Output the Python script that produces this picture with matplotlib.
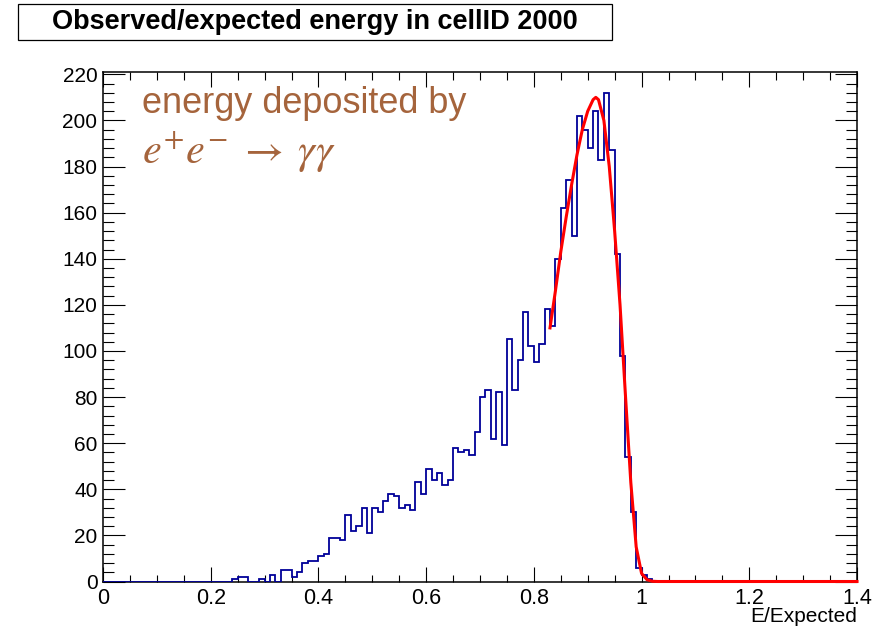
import numpy as np
import matplotlib
matplotlib.use('Agg')
import matplotlib.pyplot as plt
from matplotlib.patches import Rectangle
from matplotlib.ticker import MultipleLocator, FuncFormatter

plt.rcParams['font.family'] = ['Liberation Sans', 'DejaVu Sans']
plt.rcParams['mathtext.fontset'] = 'stix'

# ---------------- data ----------------
x_min, x_max, n_bins = 0.0, 1.4, 140

counts = [0] * 24 + [
    1, 2, 2, 0, 0, 1, 0, 3, 0, 5,          # 24-33
    5, 2, 4, 8, 9, 9, 11, 12, 19, 19,      # 34-43
    18, 29, 22, 24, 32, 21, 32, 30, 35, 38,  # 44-53
    37, 32, 33, 31, 43, 38, 49, 44, 47, 42,  # 54-63
    44, 58, 56, 57, 55, 65, 80, 83, 62, 82,  # 64-73
    59, 105, 83, 96, 117, 102, 95, 103, 118, 111,  # 74-83
    140, 162, 174, 150, 202, 196, 188, 204, 183, 212,  # 84-93
    187, 142, 98, 54, 30, 6, 3, 1,           # 94-101
] + [0] * 38

fit_x = [0.830, 0.840, 0.850, 0.860, 0.870, 0.880, 0.890, 0.900, 0.910,
         0.915, 0.920, 0.930, 0.940, 0.950, 0.960, 0.970, 0.980, 0.990,
         1.000, 1.010, 1.020, 1.030, 1.400]
fit_y = [110, 126, 143, 158, 172, 185, 196, 204, 209,
         210, 209, 200, 180, 152, 120, 81, 43, 15,
         3.5, 0.8, 0.1, 0, 0]

title = 'Observed/expected energy in cellID 2000'
x_label = 'E/Expected'
note_line1 = 'energy deposited by'
note_line2 = r'$e^{+}e^{-}\;\rightarrow\;\gamma\gamma$'

# ---------------- figure ----------------
W, H = 880, 627
fig = plt.figure(figsize=(W / 100, H / 100), dpi=100)
ax = fig.add_axes([103 / W, 1 - 581.5 / H, 754 / W, 509.5 / H])

edges = np.linspace(x_min, x_max, n_bins + 1)
ax.stairs(counts, edges, color='#000099', lw=1.3, baseline=0, zorder=3)
ax.plot(fit_x, fit_y, color='#ff0000', lw=2.2, clip_on=False, zorder=6,
        solid_joinstyle='round')

ax.set_xlim(x_min, x_max)
ax.set_ylim(0, 221)

ax.xaxis.set_major_locator(MultipleLocator(0.2))
ax.xaxis.set_minor_locator(MultipleLocator(0.05))
ax.yaxis.set_major_locator(MultipleLocator(20))
ax.yaxis.set_minor_locator(MultipleLocator(4))
ax.xaxis.set_major_formatter(FuncFormatter(lambda v, p: '%g' % round(v, 3)))
ax.yaxis.set_major_formatter(FuncFormatter(lambda v, p: '%d' % round(v)))

ax.tick_params(which='both', direction='in', top=True, right=True,
               width=0.8, colors='black', labelsize=15)
ax.tick_params(axis='x', which='major', length=10.8, pad=5, labelsize=15.5)
ax.tick_params(axis='x', which='minor', length=5.4)
ax.tick_params(axis='y', which='major', length=15.8, pad=4)
ax.tick_params(axis='y', which='minor', length=7.9)
for s in ax.spines.values():
    s.set_linewidth(1.1)

brown = '#a5643c'
ax.text(0.0726, 203, note_line1, fontsize=26, color=brown, va='baseline', ha='left')
ax.text(0.0726, 181, note_line2, fontsize=30.5, color=brown, va='baseline', ha='left')

fig.text(857 / W, 1 - 617 / H, x_label, fontsize=15, ha='right', va='center')

# title box
fig.patches.append(Rectangle((18 / W, 1 - 40 / H), 594 / W, 36 / H,
                             transform=fig.transFigure, facecolor='white',
                             edgecolor='black', lw=0.9))
fig.text(315 / W, 1 - 22 / H, title, fontsize=19.5, fontweight='bold',
         ha='center', va='center')

fig.savefig('out.png', dpi=100)
